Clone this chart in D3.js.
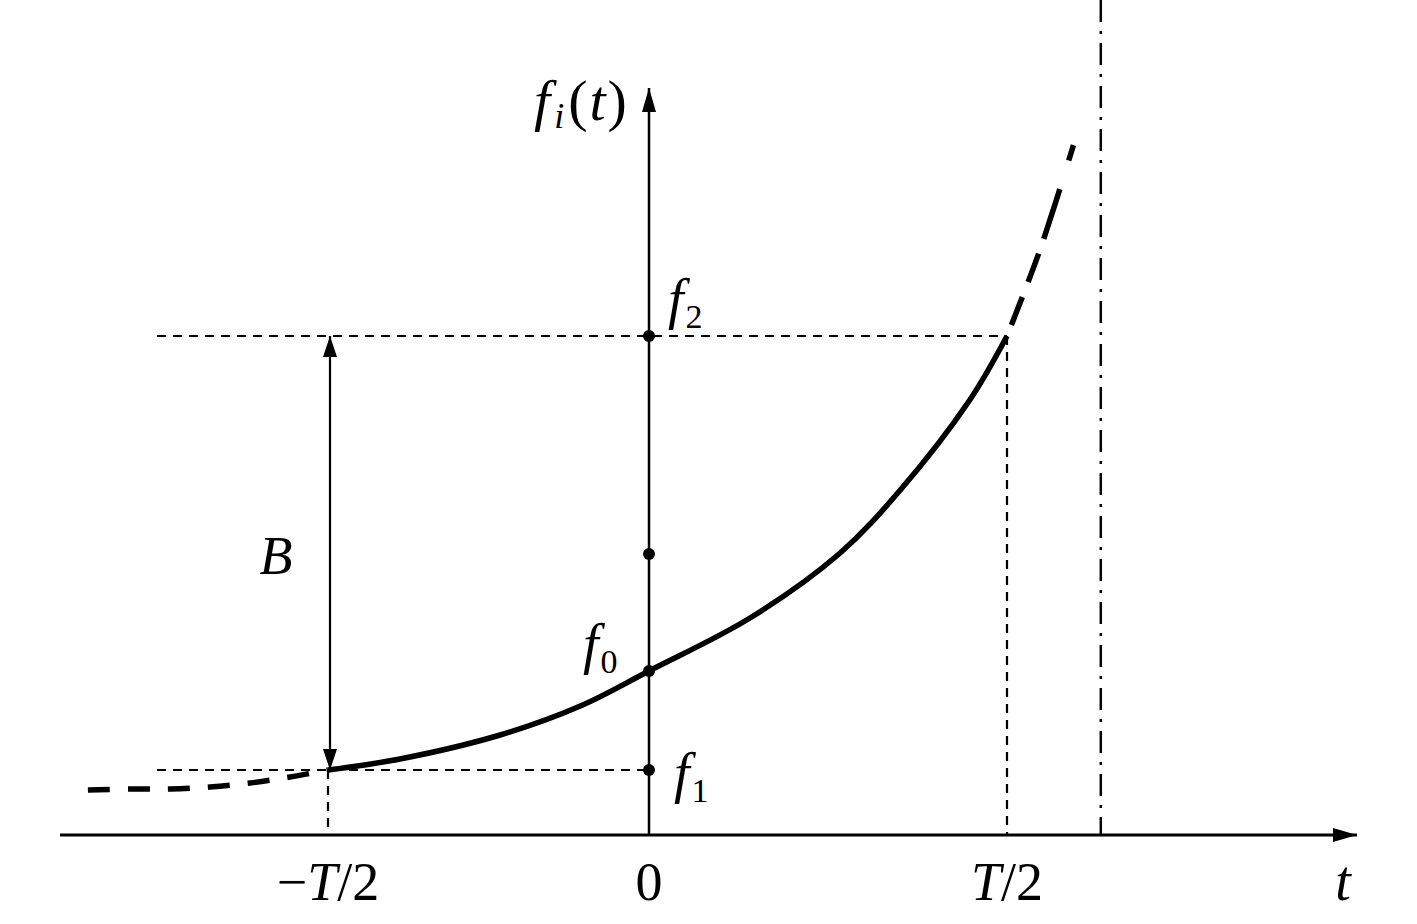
<!DOCTYPE html>
<html>
<head>
<meta charset="utf-8">
<script src="https://cdn.jsdelivr.net/npm/d3@7"></script>
<style>
  body { margin: 0; background: #fff; }
  text { font-family: "Liberation Serif", "Times New Roman", serif; fill: #000; }
</style>
</head>
<body>
<svg width="1417" height="924"></svg>
<script>
// t in units of T, f in arbitrary units
var curveT = [-0.874, -0.808, -0.746, -0.684, -0.621, -0.559, -0.5, -0.388, -0.232, -0.107, 0, 0.141, 0.267, 0.351, 0.448, 0.5, 0.546, 0.595];
var curveF = [45, 46, 46, 48, 52, 58, 65, 76, 100, 129, 164, 217, 282, 345, 435, 499, 585, 695];

var tickT = [-0.5, 0, 0.5];
var tickLabels = [["\u2212", "T", "/2"], ["", "", "0"], ["", "T", "/2"]];

var levelF = [65, 164, 281, 499];          // f1, f0, middle, f2
var levelNames = ["1", "0", null, "2"];
var asymptoteT = 0.631;

var svg = d3.select("svg"),
  width = +svg.attr("width"),
  height = +svg.attr("height");

// the sketch is not symmetric, so the t scale is piecewise
var x = d3.scaleLinear().domain([-0.5, 0, 0.5]).range([328, 649, 1007]);
var y = d3.scaleLinear().domain([0, 745]).range([835, 90]);

var defs = svg.append("defs");
function arrowMarker(id, w, h) {
  defs.append("marker")
    .attr("id", id)
    .attr("viewBox", "0 0 " + h + " " + w)
    .attr("refX", h).attr("refY", w / 2)
    .attr("markerWidth", h).attr("markerHeight", w)
    .attr("markerUnits", "userSpaceOnUse")
    .attr("orient", "auto-start-reverse")
    .append("path")
    .attr("d", "M0,0L" + h + "," + (w / 2) + "L0," + w + "Z")
    .attr("fill", "#000");
}
arrowMarker("axisArrow", 14, 24);
arrowMarker("bArrow", 14, 21);

// axes
svg.append("line")
  .attr("x1", 60).attr("x2", 1357)
  .attr("y1", y(0)).attr("y2", y(0))
  .attr("stroke", "#000").attr("stroke-width", 3)
  .attr("marker-end", "url(#axisArrow)");
svg.append("line")
  .attr("x1", x(0)).attr("x2", x(0))
  .attr("y1", y(0)).attr("y2", 88)
  .attr("stroke", "#000").attr("stroke-width", 2.5)
  .attr("marker-end", "url(#axisArrow)");

// asymptote
svg.append("line")
  .attr("x1", x(asymptoteT)).attr("x2", x(asymptoteT))
  .attr("y1", 0).attr("y2", y(0))
  .attr("stroke", "#000").attr("stroke-width", 2.5)
  .attr("stroke-dasharray", "22,9,3,9");

// dashed guide lines
var guide = svg.append("g")
  .attr("stroke", "#000").attr("stroke-width", 2.2)
  .attr("stroke-dasharray", "9,7");
guide.append("line").attr("x1", 157).attr("x2", x(0.5)).attr("y1", y(levelF[3])).attr("y2", y(levelF[3]));
guide.append("line").attr("x1", 157).attr("x2", x(0)).attr("y1", y(levelF[0])).attr("y2", y(levelF[0]));
guide.append("line").attr("x1", x(-0.5)).attr("x2", x(-0.5)).attr("y1", y(levelF[0])).attr("y2", y(0));
guide.append("line").attr("x1", x(0.5)).attr("x2", x(0.5)).attr("y1", y(levelF[3])).attr("y2", y(0));

// curve
var pts = curveT.map(function(t, i) { return [t, curveF[i]]; });
var line = d3.line()
  .x(function(d) { return x(d[0]); })
  .y(function(d) { return y(d[1]); })
  .curve(d3.curveCatmullRom);

var left = pts.filter(function(d) { return d[0] <= -0.5; });
var mid = pts.filter(function(d) { return d[0] >= -0.5 && d[0] <= 0.5; });
var right = pts.filter(function(d) { return d[0] >= 0.5; });

svg.append("path").attr("d", line(left))
  .attr("fill", "none").attr("stroke", "#000").attr("stroke-width", 5.5)
  .attr("stroke-dasharray", "22,18");
svg.append("path").attr("d", line(mid))
  .attr("fill", "none").attr("stroke", "#000").attr("stroke-width", 5.5);
svg.append("path").attr("d", line(right))
  .attr("fill", "none").attr("stroke", "#000").attr("stroke-width", 5.5)
  .attr("stroke-dasharray", "0,12,30,16,30,16,40");

// B arrow
svg.append("line")
  .attr("x1", 330).attr("x2", 330)
  .attr("y1", y(levelF[0])).attr("y2", y(levelF[3]))
  .attr("stroke", "#000").attr("stroke-width", 2.2)
  .attr("marker-start", "url(#bArrow)")
  .attr("marker-end", "url(#bArrow)");
svg.append("text")
  .attr("x", 276).attr("y", 574)
  .attr("text-anchor", "middle")
  .attr("font-size", 54).attr("font-style", "italic")
  .text("B");

// dots on the f axis
svg.selectAll("circle.lvl")
  .data(levelF)
  .enter().append("circle")
  .attr("class", "lvl")
  .attr("cx", x(0)).attr("cy", function(d) { return y(d); })
  .attr("r", 6).attr("fill", "#000");

// f labels
var fLabelPos = [[674, 792], [583, 663], null, [668, 318]];
levelNames.forEach(function(n, i) {
  if (n === null) return;
  var tx = svg.append("text")
    .attr("x", fLabelPos[i][0]).attr("y", fLabelPos[i][1])
    .attr("font-size", 56);
  tx.append("tspan").attr("font-style", "italic").text("f");
  tx.append("tspan").attr("font-size", 34).attr("dy", 10).attr("dx", 2).text(n);
});

// axis titles
var yt = svg.append("text").attr("x", 534).attr("y", 120).attr("font-size", 58);
yt.append("tspan").attr("font-style", "italic").text("f");
yt.append("tspan").attr("font-style", "italic").attr("font-size", 36).attr("dy", 8).attr("dx", 4).text("i");
yt.append("tspan").attr("dy", -8).attr("dx", 4).text("(");
yt.append("tspan").attr("font-style", "italic").attr("dx", 2).text("t");
yt.append("tspan").attr("dx", 2).text(")");

svg.append("text")
  .attr("x", 1343).attr("y", 900)
  .attr("text-anchor", "middle")
  .attr("font-size", 56).attr("font-style", "italic")
  .text("t");

// t tick labels
tickT.forEach(function(t, i) {
  var parts = tickLabels[i];
  var tx = svg.append("text")
    .attr("x", x(t)).attr("y", 900)
    .attr("text-anchor", "middle")
    .attr("font-size", 54);
  tx.append("tspan").text(parts[0]);
  tx.append("tspan").attr("font-style", "italic").text(parts[1]);
  tx.append("tspan").text(parts[2]);
});
</script>
</body>
</html>
